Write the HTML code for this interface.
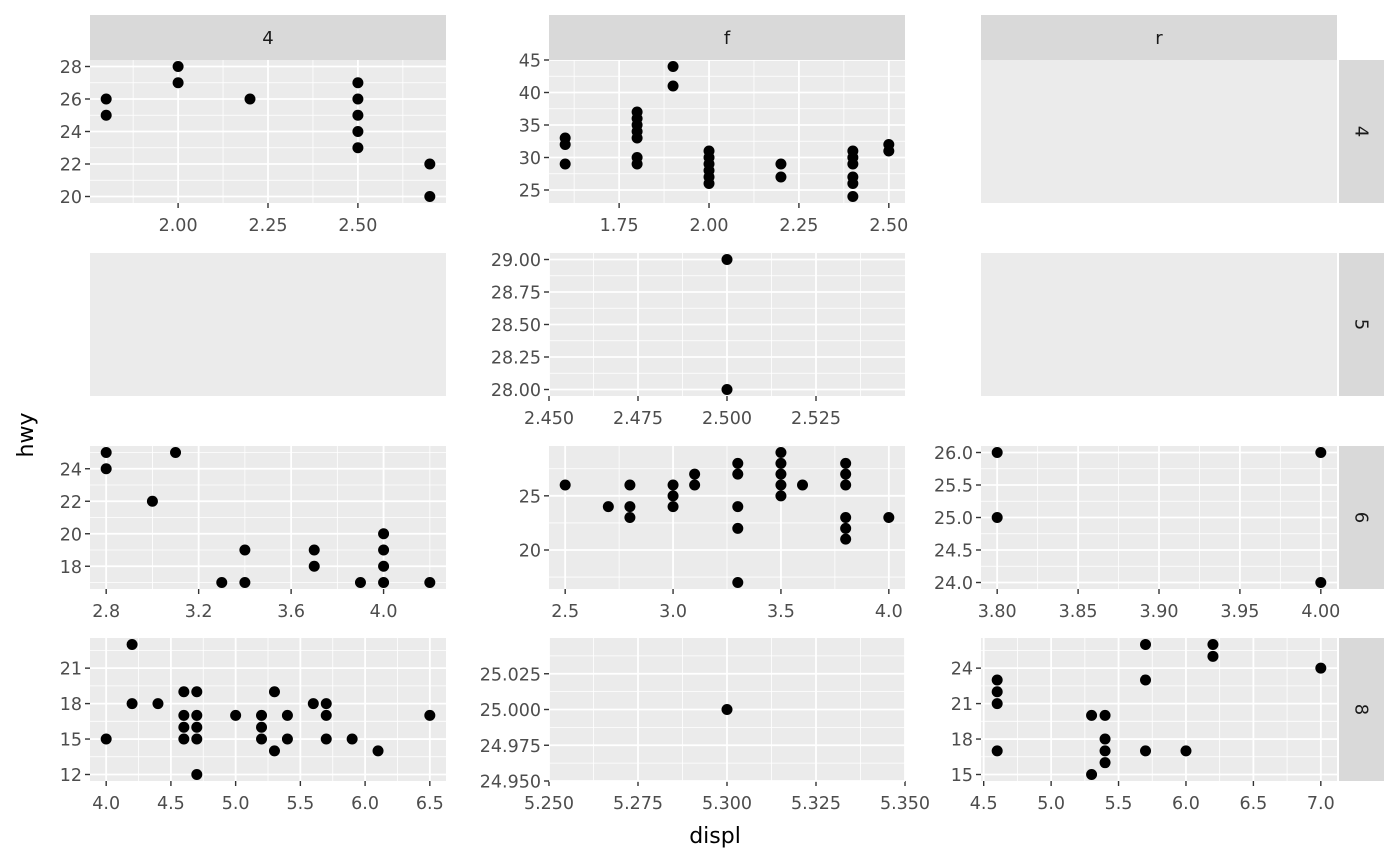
<!DOCTYPE html>
<html><head><meta charset="utf-8"><style>
html,body{margin:0;padding:0;background:#fff;}
svg{display:block;font-family:"DejaVu Sans","Liberation Sans",sans-serif;}
</style></head><body>
<svg id="chart" width="1400" height="866"></svg>
<script>
const colCategories=["4","f","r"];
const rowCategories=["4","5","6","8"];
const p44x=[1.8,1.8,2.0,2.0,2.2,2.5,2.5,2.5,2.5,2.5,2.7,2.7];
const p44y=[26,25,28,27,26,27,26,25,24,23,22,20];
const p4fx=[1.6,1.6,1.6,1.8,1.8,1.8,1.8,1.8,1.8,1.8,1.9,1.9,2.0,2.0,2.0,2.0,2.0,2.0,2.2,2.2,2.4,2.4,2.4,2.4,2.4,2.4,2.5,2.5];
const p4fy=[33,32,29,37,36,35,34,33,30,29,44,41,31,30,29,28,27,26,29,27,31,30,29,27,26,24,32,31];
const p5fx=[2.5,2.5];
const p5fy=[29,28];
const p64x=[2.8,2.8,3.1,3.0,3.3,3.4,3.4,3.7,3.7,3.9,4.0,4.0,4.0,4.0,4.2];
const p64y=[25,24,25,22,17,19,17,19,18,17,20,19,18,17,17];
const p6fx=[2.5,2.7,2.8,2.8,2.8,3.0,3.0,3.0,3.1,3.1,3.3,3.3,3.3,3.3,3.3,3.5,3.5,3.5,3.5,3.5,3.6,3.8,3.8,3.8,3.8,3.8,3.8,4.0];
const p6fy=[26,24,26,24,23,26,25,24,27,26,28,27,24,22,17,29,28,27,26,25,26,28,27,26,23,22,21,23];
const p6rx=[3.8,3.8,4.0,4.0];
const p6ry=[26,25,26,24];
const p84x=[4.0,4.2,4.2,4.4,4.6,4.6,4.6,4.6,4.7,4.7,4.7,4.7,4.7,5.0,5.2,5.2,5.2,5.3,5.3,5.4,5.4,5.6,5.7,5.7,5.7,5.9,6.1,6.5];
const p84y=[15,23,18,18,19,17,16,15,19,17,16,15,12,17,17,16,15,19,14,17,15,18,18,17,15,15,14,17];
const p8fx=[5.3];
const p8fy=[25];
const p8rx=[4.6,4.6,4.6,4.6,5.3,5.3,5.4,5.4,5.4,5.4,5.7,5.7,5.7,6.0,6.2,6.2,7.0];
const p8ry=[23,22,21,17,20,15,20,18,17,16,26,23,17,17,26,25,24];
const t44x=["2.00","2.25","2.50"], t44y=["20","22","24","26","28"];
const t4fx=["1.75","2.00","2.25","2.50"], t4fy=["25","30","35","40","45"];
const t5fx=["2.450","2.475","2.500","2.525"], t5fy=["28.00","28.25","28.50","28.75","29.00"];
const t64x=["2.8","3.2","3.6","4.0"], t64y=["18","20","22","24"];
const t6fx=["2.5","3.0","3.5","4.0"], t6fy=["20","25"];
const t6rx=["3.80","3.85","3.90","3.95","4.00"], t6ry=["24.0","24.5","25.0","25.5","26.0"];
const t84x=["4.0","4.5","5.0","5.5","6.0","6.5"], t84y=["12","15","18","21"];
const t8fx=["5.250","5.275","5.300","5.325","5.350"], t8fy=["24.950","24.975","25.000","25.025"];
const t8rx=["4.5","5.0","5.5","6.0","6.5","7.0"], t8ry=["15","18","21","24"];

const NS="http://www.w3.org/2000/svg";
const svg=document.getElementById('chart');
function mk(tag,attrs,parent){const e=document.createElementNS(NS,tag);for(const k in attrs)e.setAttribute(k,attrs[k]);(parent||svg).appendChild(e);return e;}
const colX=[90,549,981], colW=356;
const rowY=[60,253,446,638], rowH=143;

function lim(v){let a=Math.min(...v),b=Math.max(...v);if(a===b){return [a-0.05,b+0.05];}const d=(b-a)*0.05;return [a-d,b+d];}

function panel(r,c,xs,ys,xt,yt){
  const x0=colX[c],y0=rowY[r];
  const bg=mk('rect',{x:x0,y:y0,width:colW,height:rowH,fill:'#EBEBEB'});
  
  
  if(!xs)return;
  const xl=lim(xs), yl=lim(ys);
  const sx=v=>x0+(v-xl[0])/(xl[1]-xl[0])*colW;
  const sy=v=>y0+rowH-(v-yl[0])/(yl[1]-yl[0])*rowH;
  const xb=xt.map(Number), yb=yt.map(Number);
  const g=mk('g',{});
  
  
  function minors(b,l){const st=b.length>1?b[1]-b[0]:0.1;const out=[];for(let v=b[0]-st/2;v<=l[1];v+=st)if(v>=l[0])out.push(v);return out;}
  minors(xb,xl).forEach(v=>mk('line',{x1:sx(v),x2:sx(v),y1:y0,y2:y0+rowH,stroke:'#fff','stroke-width':0.8},g));
  minors(yb,yl).forEach(v=>mk('line',{y1:sy(v),y2:sy(v),x1:x0,x2:x0+colW,stroke:'#fff','stroke-width':0.8},g));
  xb.forEach((v,i)=>{const X=sx(v);
    mk('line',{x1:X,x2:X,y1:y0,y2:y0+rowH,stroke:'#fff','stroke-width':1.8},g);
    mk('line',{x1:X,x2:X,y1:y0+rowH,y2:y0+rowH+5,stroke:'#333','stroke-width':1.4},g);
    const t=mk('text',{x:X,y:y0+rowH+28,'text-anchor':'middle','font-size':17.5,fill:'#4D4D4D'},g);t.textContent=xt[i];
    
    });
  yb.forEach((v,i)=>{const Y=sy(v);
    mk('line',{y1:Y,y2:Y,x1:x0,x2:x0+colW,stroke:'#fff','stroke-width':1.8},g);
    mk('line',{y1:Y,y2:Y,x1:x0-5,x2:x0,stroke:'#333','stroke-width':1.4},g);
    const t=mk('text',{x:x0-8,y:Y+6.5,'text-anchor':'end','font-size':17.5,fill:'#4D4D4D'},g);t.textContent=yt[i];
    
    });
  xs.forEach((v,i)=>{const p=mk('circle',{cx:sx(v),cy:sy(ys[i]),r:5.5,fill:'#000'},g);
    
    });
}
panel(0,0,p44x,p44y,t44x,t44y);
panel(0,1,p4fx,p4fy,t4fx,t4fy);
panel(0,2);
panel(1,0);
panel(1,1,p5fx,p5fy,t5fx,t5fy);
panel(1,2);
panel(2,0,p64x,p64y,t64x,t64y);
panel(2,1,p6fx,p6fy,t6fx,t6fy);
panel(2,2,p6rx,p6ry,t6rx,t6ry);
panel(3,0,p84x,p84y,t84x,t84y);
panel(3,1,p8fx,p8fy,t8fx,t8fy);
panel(3,2,p8rx,p8ry,t8rx,t8ry);

colCategories.forEach((c,i)=>{
  const s=mk('rect',{x:colX[i],y:15,width:colW,height:45,fill:'#D9D9D9'});
  
  
  const t=mk('text',{x:colX[i]+colW/2,y:44,'text-anchor':'middle','font-size':18,fill:'#1A1A1A'});t.textContent=c;
  
  
});
rowCategories.forEach((c,i)=>{
  const s=mk('rect',{x:1339,y:rowY[i],width:45,height:rowH,fill:'#D9D9D9'});
  
  
  const cx=1361,cy=rowY[i]+rowH/2;
  const t=mk('text',{x:cx,y:cy,'text-anchor':'middle','dominant-baseline':'central','font-size':18,fill:'#1A1A1A',transform:`rotate(90 ${cx} ${cy})`});t.textContent=c;
  
  
});
const xt=mk('text',{x:715,y:843,'text-anchor':'middle','font-size':22,fill:'#000'});xt.textContent='displ';


const yti=mk('text',{x:33,y:435,'text-anchor':'middle','font-size':22,fill:'#000',transform:'rotate(-90 33 435)'});yti.textContent='hwy';


</script>
</body></html>
